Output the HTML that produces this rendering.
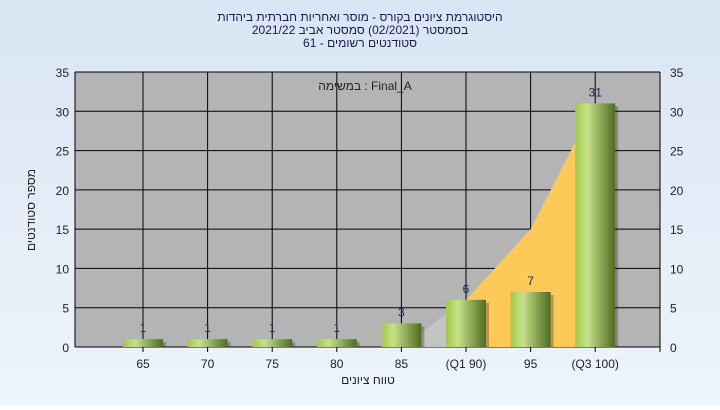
<!DOCTYPE html>
<html><head><meta charset="utf-8"><style>
body{margin:0;width:720px;height:405px;overflow:hidden;font-family:"Liberation Sans",Arial,sans-serif;}
</style></head><body>
<svg width="720" height="405" xmlns="http://www.w3.org/2000/svg">
<defs>
<linearGradient id="bg" x1="0" y1="0" x2="0" y2="1"><stop offset="0" stop-color="#d9e5f3"/><stop offset="1" stop-color="#eef4fc"/></linearGradient>
<linearGradient id="bar" x1="0" y1="0" x2="1" y2="0"><stop offset="0" stop-color="#9fc94a"/><stop offset="0.3" stop-color="#c8e08a"/><stop offset="0.65" stop-color="#8aa655"/><stop offset="1" stop-color="#4e6a25"/></linearGradient>
</defs>
<rect width="720" height="405" fill="url(#bg)"/>
<g font-size="12" fill="#1a1a50" text-anchor="middle" direction="rtl" style="font-family:'Liberation Sans','Noto Sans CJK JP',sans-serif">
<text x="360" y="21" direction="rtl" unicode-bidi="embed">היסטוגרמת ציונים בקורס - מוסר ואחריות חברתית ביהדות</text>
<text x="360" y="34" direction="rtl" unicode-bidi="embed">בסמסטר  (02/2021)  סמסטר אביב 2021/22</text>
<text x="360" y="47" direction="rtl" unicode-bidi="embed">סטודנטים רשומים - 61</text>
</g>
<rect x="75" y="72" width="585" height="275" fill="#b4b4b4"/>
<g id="grid"></g>
<g id="marks"></g>
<text x="365" y="90" font-size="12" text-anchor="middle" fill="#222" style="font-family:'Liberation Sans','Noto Sans CJK JP',sans-serif">במשימה : Final_A</text>
<text transform="translate(35,210) rotate(-90)" font-size="12" text-anchor="middle" fill="#222" style="font-family:'Liberation Sans','Noto Sans CJK JP',sans-serif">מספר סטודנטים</text>
<text x="368" y="384" font-size="12" text-anchor="middle" fill="#222" style="font-family:'Liberation Sans','Noto Sans CJK JP',sans-serif">טווח ציונים</text>
</svg>
<script>
const categories=["65","70","75","80","85","(Q1 90)","95","(Q3 100)"];
const counts=[1,1,1,1,3,6,7,31];
const areaValues=[0,0,0,0,0,6,15,31];
const yTicks=[0,5,10,15,20,25,30,35];
const NS="http://www.w3.org/2000/svg";
const x0=75,x1=660,yTop=72,yBot=347,yMax=35;
const xc=i=>143+i*64.6;
const y=v=>yBot-v/yMax*(yBot-yTop);
function mk(t,a,p){const e=document.createElementNS(NS,t);for(const k in a)e.setAttribute(k,a[k]);(p||document.getElementById('marks')).appendChild(e);return e;}
const grid=document.getElementById('grid');
yTicks.forEach(v=>{
 const l=mk('line',{x1:x0,x2:x1,y1:y(v),y2:y(v),stroke:'#000','stroke-width':1},grid);
 
 
 const t1=mk('text',{x:69,y:y(v)+5,'font-size':12,'text-anchor':'end',fill:'#222'},grid);t1.textContent=v;
 
 
 const t2=mk('text',{x:670,y:y(v)+5,'font-size':12,'text-anchor':'start',fill:'#222'},grid);t2.textContent=v;
 
 
});
categories.forEach((c,i)=>{
 const l=mk('line',{x1:xc(i),x2:xc(i),y1:yTop,y2:yBot+5,stroke:'#000','stroke-width':1},grid);
 
 
 const t=mk('text',{x:xc(i),y:368,'font-size':12,'text-anchor':'middle',fill:'#222'},grid);t.textContent=c;
 
 
});
mk('line',{x1:x0,x2:x0,y1:yTop,y2:yBot,stroke:'#000'},grid);
mk('line',{x1:x1,x2:x1,y1:yTop,y2:yBot+5,stroke:'#000'},grid);
let pts=[];let first=areaValues.findIndex(v=>v>0);
const g0=Math.max(first-1,0);
const lg=mk('polygon',{points:`${xc(g0)},${y(0)} ${xc(g0)},${y(areaValues[g0])} ${xc(first)},${y(areaValues[first])} ${xc(first)},${y(0)}`,fill:'#c4c4c4'});


pts.push(`${xc(first)},${y(0)}`);
for(let i=first;i<areaValues.length;i++)pts.push(`${xc(i)},${y(areaValues[i])}`);
pts.push(`${xc(areaValues.length-1)},${y(0)}`);
const ar=mk('polygon',{points:pts.join(' '),fill:'#fdc959'});


counts.forEach((v,i)=>{
 const bx=xc(i)-20,by=y(v),h=yBot-by;
 mk('rect',{x:bx+3,y:by+3,width:40,height:h-3,fill:'#000',opacity:0.25});
 const r=mk('rect',{x:bx,y:by,width:40,height:h,fill:'url(#bar)'});
 
 
 const t=mk('text',{x:xc(i),y:by-7,'font-size':12,'text-anchor':'middle',fill:'#1a2a50'});t.textContent=v;
 
 
});
</script>
</body></html>
